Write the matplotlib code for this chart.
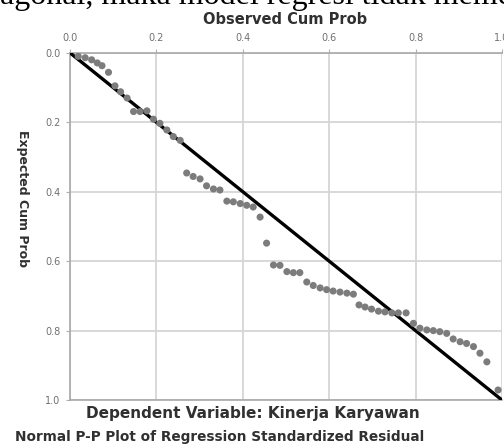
import matplotlib.pyplot as plt

# observed / expected cumulative probabilities
observed = [0.019, 0.035, 0.050, 0.063, 0.074, 0.089, 0.104, 0.117, 0.132, 0.147,
            0.162, 0.178, 0.193, 0.208, 0.224, 0.239, 0.255, 0.270, 0.285, 0.301,
            0.316, 0.332, 0.347, 0.363, 0.378, 0.394, 0.409, 0.424, 0.440, 0.455,
            0.471, 0.486, 0.502, 0.517, 0.532, 0.548, 0.563, 0.579, 0.594, 0.609,
            0.625, 0.641, 0.656, 0.669, 0.683, 0.698, 0.714, 0.729, 0.745, 0.760,
            0.778, 0.795, 0.810, 0.826, 0.841, 0.856, 0.872, 0.887, 0.903, 0.918,
            0.934, 0.949, 0.965, 0.991]
expected = [0.010, 0.014, 0.020, 0.029, 0.037, 0.056, 0.095, 0.112, 0.130, 0.169,
            0.169, 0.167, 0.191, 0.203, 0.222, 0.241, 0.252, 0.346, 0.356, 0.363,
            0.383, 0.392, 0.395, 0.427, 0.429, 0.434, 0.439, 0.444, 0.473, 0.548,
            0.611, 0.612, 0.630, 0.633, 0.633, 0.660, 0.670, 0.677, 0.682, 0.686,
            0.689, 0.692, 0.695, 0.726, 0.732, 0.738, 0.744, 0.746, 0.749, 0.749,
            0.749, 0.779, 0.793, 0.798, 0.800, 0.803, 0.808, 0.824, 0.832, 0.837,
            0.846, 0.865, 0.890, 0.971]
ticks = [0.0, 0.2, 0.4, 0.6, 0.8, 1.0]
tick_labels = ["0.0", "0.2", "0.4", "0.6", "0.8", "1.0"]

fig = plt.figure(figsize=(5.04, 4.48), dpi=100)
ax = fig.add_axes([0.139, 0.107, 0.857, 0.775])

ax.plot([0, 1], [0, 1], color="black", lw=2.4, zorder=3)
ax.scatter(observed, expected, s=26, color="#7c7c7c", edgecolors="none", zorder=4)

ax.set_xlim(0, 1)
ax.set_ylim(1, 0)
ax.xaxis.tick_top()
ax.set_xticks(ticks)
ax.set_yticks(ticks)
ax.set_xticklabels(tick_labels)
ax.set_yticklabels(tick_labels)
ax.tick_params(length=3, color="#b0b0b0", labelsize=7, labelcolor="#707070", pad=4)
ax.grid(color="#d6d6d6", lw=1.3)
ax.set_axisbelow(True)
for side in ["left", "top", "bottom"]:
    ax.spines[side].set_color("#a8a8a8")
    ax.spines[side].set_linewidth(1.2)
ax.spines["right"].set_visible(False)

bold = dict(family="DejaVu Sans", fontweight="bold", color="#303030")
fig.text(0.566, 0.957, "Observed Cum Prob", ha="center", va="center", fontsize=10.5, **bold)
fig.text(0.044, 0.556, "Expected Cum Prob", ha="center", va="center", rotation=270,
         fontsize=9, **bold)
fig.text(0.502, 0.076, "Dependent Variable: Kinerja Karyawan", ha="center", va="center",
         fontsize=11, **bold)
fig.text(0.435, 0.025, "Normal P-P Plot of Regression Standardized Residual",
         ha="center", va="center", fontsize=9.8, **bold)

# fragment of the surrounding document text, cut by the top edge
fig.text(0.0, 0.99, "agonal, maka model regresi tidak meme", ha="left", va="baseline",
         family="Liberation Serif", fontsize=23, color="black")

fig.savefig("out.png", dpi=100)
